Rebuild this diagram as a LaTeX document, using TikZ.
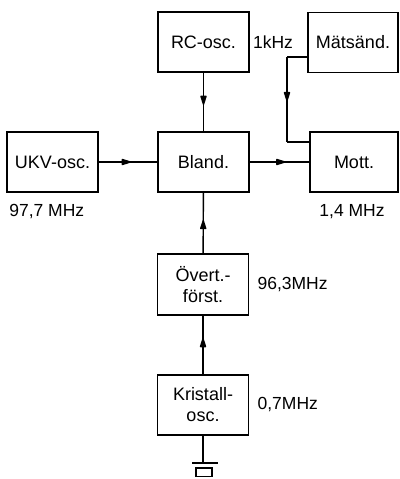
\documentclass[tikz,border=0pt]{standalone}
\usepackage{fontspec}
\setmainfont{Liberation Sans}
\usetikzlibrary{arrows.meta, positioning, decorations.markings}

\begin{document}
\begin{tikzpicture}[x=1pt, y=1pt,
    block/.style={draw, line width=1.8pt, minimum width=91pt, minimum height=60pt,
        inner sep=0pt, align=center, font=\fontsize{18}{21}\selectfont},
    freq/.style={inner sep=0pt, font=\fontsize{17.5}{21}\selectfont},
    link/.style={line width=1.4pt},
    midarrow/.style={link, decoration={markings,
        mark=at position #1 with {\arrow{Triangle[length=11pt,width=6.5pt,round]}}}, postaction={decorate}},
    midarrow/.default=0.55]
    \useasboundingbox (0,0) rectangle (399,-479);

    % Top row
    \node (rc) at (203.5,-42) [block] {RC-osc.};
    \node (mat) at (353,-42.5) [block, minimum width=90pt] {Mätsänd.};
    \node (khz) [freq, right=3pt of rc] {1kHz};

    % Middle row
    \node (ukv) at (52.5,-162) [block] {UKV-osc.};
    \node (bland) at (203.5,-162) [block] {Bland.};
    \node (mott) at (354,-162) [block, minimum width=88pt] {Mott.};
    \node (fukv) [freq, anchor=north west] at ([xshift=3pt, yshift=-11pt]ukv.south west) {97,7 MHz};
    \node (fmott) [freq, below=11pt of mott.south, xshift=-2pt] {1,4 MHz};

    % Overtone amplifier
    \node (overt) at (203,-284.5) [block, minimum height=61pt] {Övert.-\\först.};
    \node (fovert) [freq, right=8pt of overt] {96,3MHz};

    % Crystal oscillator
    \node (krist) at (203,-405) [block] {Kristall-\\osc.};
    \node (fkrist) [freq, right=8pt of krist] {0,7MHz};

    % Connections
    \draw[midarrow] (rc) -- (bland);
    \draw[midarrow] (ukv) -- (bland);
    \draw[midarrow=0.6] (bland) -- (mott);
    \draw[midarrow] (overt) -- (bland);
    \draw[midarrow=0.62] (krist) -- (overt);

    \coordinate (mj1) at (287,-57);
    \coordinate (mj2) at (287,-142);
    \draw[link] (mat.west |- mj1) -- (mj1);
    \draw[midarrow=0.52] (mj1) -- (mj2);
    \draw[link] (mj2) -- (mott.west |- mj2);

    % Ground
    \coordinate (gnd) at (203,-463);
    \draw[link] (krist.south) -- (gnd);
    \draw[line width=1.8pt] ([xshift=-11pt]gnd) -- ([xshift=15pt]gnd);
    \draw[line width=1.5pt] (196,-468) rectangle (212,-476.5);
\end{tikzpicture}
\end{document}
